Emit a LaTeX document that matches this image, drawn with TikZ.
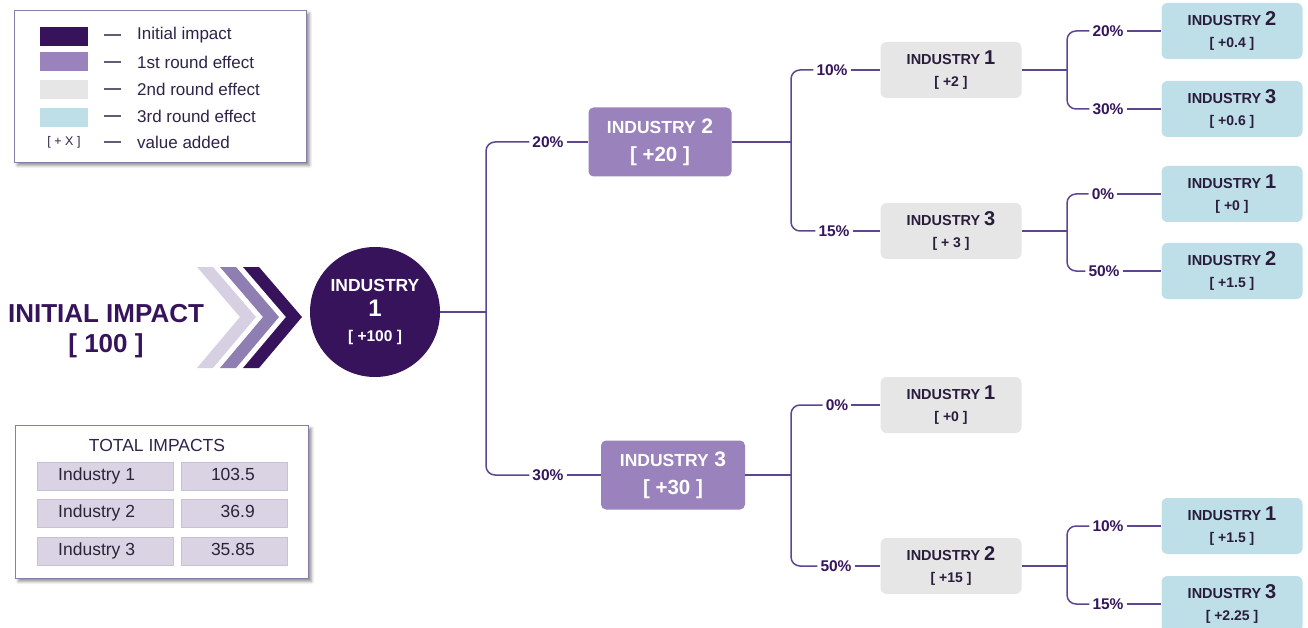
\documentclass[tikz,border=0pt]{standalone}
\usepackage{fontspec}
\setmainfont{Liberation Sans}
\usetikzlibrary{shadows.blur}
\definecolor{dk}{HTML}{37135C}
\definecolor{med}{HTML}{9A83BC}
\definecolor{gry}{HTML}{E6E6E6}
\definecolor{blu}{HTML}{BEDFE8}
\definecolor{chl}{HTML}{D6D0E2}
\definecolor{chm}{HTML}{8E7EB2}
\definecolor{lc}{HTML}{5E4590}
\definecolor{pc}{HTML}{35155C}
\definecolor{btxt}{HTML}{2A1C3C}
\definecolor{ltx}{HTML}{2E2448}
\definecolor{pborder}{HTML}{8A7BAA}
\definecolor{cellf}{HTML}{DAD3E4}
\definecolor{cellb}{HTML}{C9BFD8}
\definecolor{ctx}{HTML}{2A2438}
\newcommand\fsz[2]{\fontsize{#1}{#2}\selectfont}
\newcommand\indA[2]{{\fsz{14.5}{22}INDUSTRY} {\fsz{20}{22}#1}\\{}[ #2 ]}
\newcommand\indB[2]{{\fsz{17.5}{28}INDUSTRY} {\fsz{21}{28}#1}\\{}[ #2 ]}
\tikzset{
  conn/.style={draw=lc, line width=1.5pt, rounded corners=9pt},
  pct/.style={font=\bfseries\fsz{15.5}{15.5}, text=pc, inner sep=3pt},
  r1box/.style={fill=med, rounded corners=5pt, minimum width=143pt, minimum height=69pt,
    text=white, align=center, font=\bfseries\fsz{20.5}{28}, inner sep=0pt},
  r2box/.style={fill=gry, rounded corners=6pt, minimum width=141pt, minimum height=56pt,
    text=btxt, align=center, font=\bfseries\fsz{14}{22}, inner sep=0pt},
  r3box/.style={r2box, fill=blu},
  panel/.style={draw=pborder, line width=0.8pt, fill=white, anchor=north west, inner sep=0pt,
    blur shadow={shadow xshift=3pt, shadow yshift=-3pt, shadow blur radius=3pt, shadow opacity=45}},
  swatch/.style={minimum width=48pt, minimum height=19pt, inner sep=0pt},
  ldash/.style={draw=ltx!75, line width=1.1pt},
  ltxt/.style={font=\fsz{17}{17}, text=ltx, anchor=west, inner sep=0pt},
  cell/.style={fill=cellf, draw=cellb, line width=0.6pt, minimum height=28pt, inner sep=0pt},
  ctxt/.style={font=\fsz{17.5}{17.5}, text=ctx, inner sep=0pt, text height=12pt, text depth=3pt},
}
\begin{document}
\begin{tikzpicture}[x=1pt,y=-1pt]
\useasboundingbox (0,0) rectangle (1308,628);

% ---------- legend ----------
\node[panel, minimum width=292pt, minimum height=152pt] (leg) at (14,10) {};
\node[swatch, fill=dk]  (s1) at (64,36.5) {};
\node[swatch, fill=med] (s2) at (64,62) {};
\node[swatch, fill=gry] (s3) at (64,90) {};
\node[swatch, fill=blu] (s4) at (64,118) {};
\node[font=\fsz{12.5}{12.5}, text=ltx, inner sep=0pt] (s5) at (64,142) {[ + X ]};
\foreach \yy in {35,62,89,116,142} \draw[ldash] (104,\yy) -- (121,\yy);
\node[ltxt] (t1) at (137,35) {Initial impact};
\node[ltxt] (t2) at (137,62) {1st round effect};
\node[ltxt] (t3) at (137,89) {2nd round effect};
\node[ltxt] (t4) at (137,116) {3rd round effect};
\node[ltxt] (t5) at (137,142) {value added};

% ---------- initial impact ----------
\node[font=\bfseries\fsz{26}{30}, text=dk, align=center, inner sep=0pt] (ii) at (106,331) {INITIAL IMPACT\\{}[ 100 ]};
\fill[chl] (197,267) -- (213,267) -- (256,317) -- (213,368) -- (197,368) -- (240,317) -- cycle;
\fill[chm] (220,267) -- (236,267) -- (279,317) -- (236,368) -- (220,368) -- (263,317) -- cycle;
\fill[dk]  (243,267) -- (259,267) -- (302,317) -- (259,368) -- (243,368) -- (286,317) -- cycle;

\node[circle, fill=dk, minimum size=130pt, inner sep=0pt, text=white, align=center,
  font=\bfseries\fsz{15.5}{25}] (c1) at (375,312)
  {{\fsz{17.5}{25}INDUSTRY}\\{\fsz{24}{25}1}\\{}[ +100 ]};

% ---------- total impacts ----------
\node[panel, minimum width=293pt, minimum height=153pt] (tot) at (15,425) {};
\node[font=\fsz{17.5}{17.5}, text=ltx, inner sep=0pt] (tt) at (157,445) {TOTAL IMPACTS};
\node[cell, minimum width=136pt] (a1) at (105,476) {};
\node[cell, minimum width=106pt] (b1) at (234,476) {};
\node[cell, minimum width=136pt] (a2) at (105,513) {};
\node[cell, minimum width=106pt] (b2) at (234,513) {};
\node[cell, minimum width=136pt] (a3) at (105,551) {};
\node[cell, minimum width=106pt] (b3) at (234,551) {};
\node[ctxt, anchor=west] (a1t) at (58,476) {Industry 1};
\node[ctxt, anchor=west] (a2t) at (58,513) {Industry 2};
\node[ctxt, anchor=west] (a3t) at (58,551) {Industry 3};
\node[ctxt, anchor=east] (b1t) at (255,476) {103.5};
\node[ctxt, anchor=east] (b2t) at (255,513) {36.9};
\node[ctxt, anchor=east] (b3t) at (255,551) {35.85};

% ---------- round 1 ----------
\node[r1box] (i2) at (660,142) {\indB{2}{+20}};
\node[r1box, minimum width=144pt] (i3) at (673,475) {\indB{3}{+30}};
\node[pct] (p1a) at (548,142) {20\%};
\node[pct] (p1b) at (548,475) {30\%};
\coordinate (j1) at (486,312);
\draw[conn] (c1.east) -- (j1);
\draw[conn] (j1) |- (p1a);
\draw[conn] (j1) |- (p1b);
\draw[conn] (p1a) -- (i2);
\draw[conn] (p1b) -- (i3);

% ---------- round 2 ----------
\node[r2box] (g1) at (951,70) {\indA{1}{+2}};
\node[r2box] (g2) at (951,231) {\indA{3}{+ 3}};
\node[r2box] (g3) at (951,405) {\indA{1}{+0}};
\node[r2box] (g4) at (951,566) {\indA{2}{+15}};
\node[pct] (p2a) at (832,70) {10\%};
\node[pct] (p2b) at (834,231) {15\%};
\node[pct] (p2c) at (837,405) {0\%};
\node[pct] (p2d) at (836,566) {50\%};
\coordinate (j2) at (791,142);
\coordinate (j3) at (791,475);
\draw[conn] (i2) -- (j2);
\draw[conn] (j2) |- (p2a);
\draw[conn] (j2) |- (p2b);
\draw[conn] (p2a) -- (g1);
\draw[conn] (p2b) -- (g2);
\draw[conn] (i3) -- (j3);
\draw[conn] (j3) |- (p2c);
\draw[conn] (j3) |- (p2d);
\draw[conn] (p2c) -- (g3);
\draw[conn] (p2d) -- (g4);

% ---------- round 3 ----------
\node[r3box] (b31) at (1232,31) {\indA{2}{+0.4}};
\node[r3box] (b32) at (1232,109) {\indA{3}{+0.6}};
\node[r3box] (b33) at (1232,194) {\indA{1}{+0}};
\node[r3box] (b34) at (1232,271) {\indA{2}{+1.5}};
\node[r3box] (b35) at (1232,526) {\indA{1}{+1.5}};
\node[r3box] (b36) at (1232,604) {\indA{3}{+2.25}};
\node[pct] (p3a) at (1108,31) {20\%};
\node[pct] (p3b) at (1108,109) {30\%};
\node[pct] (p3c) at (1103,194) {0\%};
\node[pct] (p3d) at (1104,271) {50\%};
\node[pct] (p3e) at (1108,526) {10\%};
\node[pct] (p3f) at (1108,604) {15\%};
\coordinate (k1) at (1067,70);
\coordinate (k2) at (1067,231);
\coordinate (k3) at (1067,566);
\draw[conn] (g1) -- (k1);
\draw[conn] (k1) |- (p3a);
\draw[conn] (k1) |- (p3b);
\draw[conn] (p3a) -- (b31);
\draw[conn] (p3b) -- (b32);
\draw[conn] (g2) -- (k2);
\draw[conn] (k2) |- (p3c);
\draw[conn] (k2) |- (p3d);
\draw[conn] (p3c) -- (b33);
\draw[conn] (p3d) -- (b34);
\draw[conn] (g4) -- (k3);
\draw[conn] (k3) |- (p3e);
\draw[conn] (k3) |- (p3f);
\draw[conn] (p3e) -- (b35);
\draw[conn] (p3f) -- (b36);
\end{tikzpicture}
\end{document}
